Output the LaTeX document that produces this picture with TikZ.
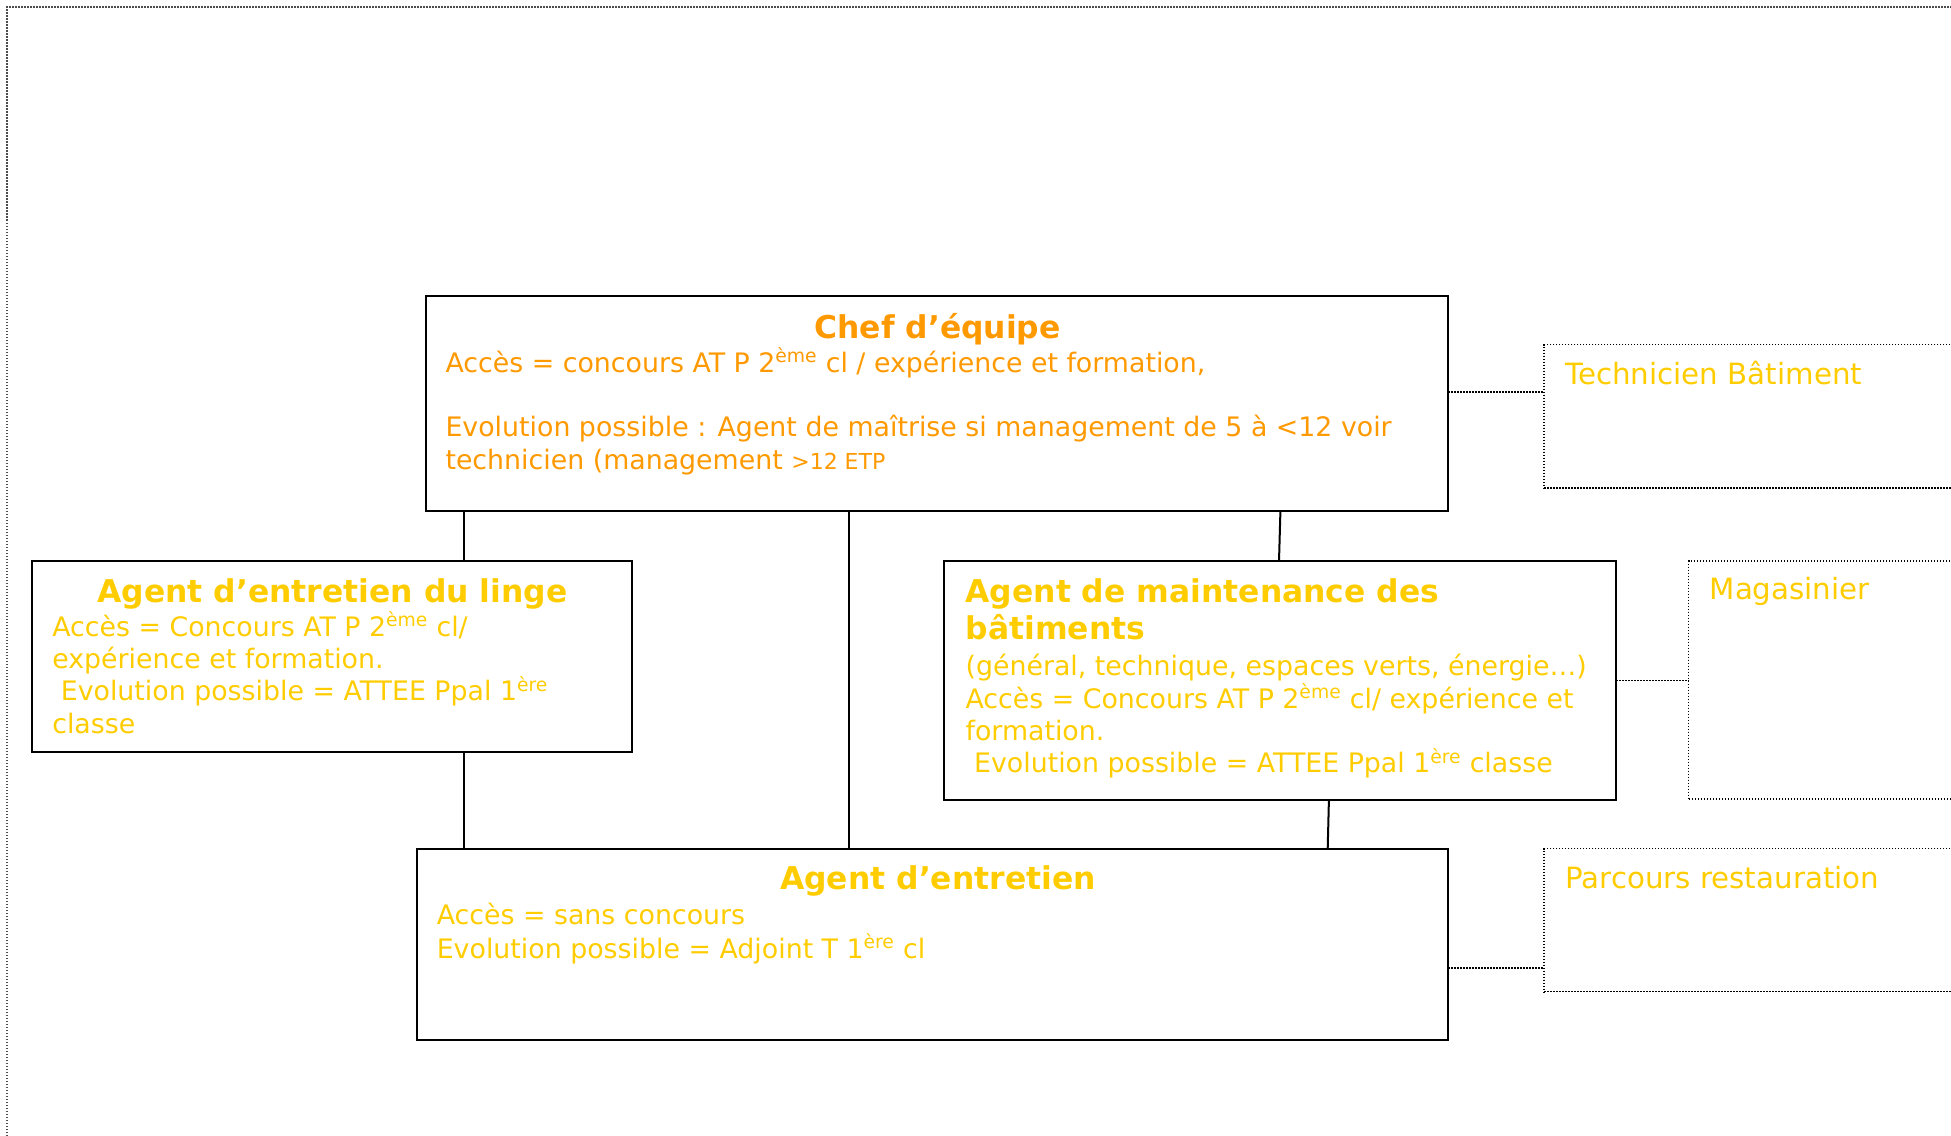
\documentclass[tikz,border=0pt]{standalone}
\usepackage{fontspec}
\setmainfont{DejaVu Sans}
\usetikzlibrary{calc}
\definecolor{orangeT}{HTML}{FF9900}
\definecolor{goldT}{HTML}{FFCC00}
\newcommand\bodyfnt{\fontsize{26.8}{32}\selectfont}
\newcommand\sidefnt{\fontsize{29.3}{35}\selectfont}
\newcommand\titlefnt{\fontsize{31.4}{37}\selectfont\bfseries}
\begin{document}
\begin{tikzpicture}[x=1pt,y=-1pt,
  box/.style={draw=black, line width=2pt, rectangle, inner sep=0pt, outer sep=0pt, anchor=north west},
  dbox/.style={draw=black, line width=1.5pt, dash pattern=on 1.5pt off 1.5pt, rectangle, inner sep=0pt, outer sep=0pt, anchor=north west},
  conn/.style={draw=black, line width=2pt},
  dconn/.style={draw=black, line width=1.5pt, dash pattern=on 1.5pt off 1.5pt},
  txt/.style={anchor=base west, inner sep=0pt, outer sep=0pt, font=\bodyfnt},
  stxt/.style={anchor=base west, inner sep=0pt, outer sep=0pt, font=\sidefnt},
  ttl/.style={anchor=base, inner sep=0pt, outer sep=0pt, font=\titlefnt},
  ttlw/.style={anchor=base west, inner sep=0pt, outer sep=0pt, font=\titlefnt}]
\useasboundingbox (0,0) rectangle (1951,1135);
\clip (0,0) rectangle (1951,1135);
% outer dotted frame
\draw[draw=black!70, line width=1.5pt, dash pattern=on 1.5pt off 1.5pt] (7,1160) -- (7,7) -- (1970,7);

% boxes
\node[box, minimum width=1022.8pt, minimum height=215.3pt] (chef) at (425.6,296.1) {};
\node[box, minimum width=599.7pt, minimum height=190.4pt] (linge) at (32.4,561.2) {};
\node[box, minimum width=671.9pt, minimum height=238.9pt] (maint) at (944.4,561.2) {};
\node[box, minimum width=1031.6pt, minimum height=191.6pt] (agent) at (416.8,848.6) {};
\node[dbox, minimum width=430pt, minimum height=143.1pt] (tech) at (1544.2,344.7) {};
\node[dbox, minimum width=300pt, minimum height=237.6pt] (mag) at (1688.5,561.2) {};
\node[dbox, minimum width=430pt, minimum height=143.1pt] (parc) at (1544.2,848.6) {};

% connectors
\draw[conn] ([xshift=38.5pt]chef.south west) -- ([xshift=38.5pt]chef.south west |- linge.north);
\draw[conn] ([xshift=423pt]chef.south west) -- ([xshift=423pt]chef.south west |- agent.north);
\draw[conn] ([xshift=854.8pt]chef.south west) -- ([xshift=334.6pt]maint.north west);
\draw[conn] ([xshift=431.7pt]linge.south west) -- ([xshift=431.7pt]linge.south west |- agent.north);
\draw[conn] ([xshift=384.5pt]maint.south west) -- ([xshift=910.9pt]agent.north west);
\draw[dconn] ([yshift=-95.9pt]chef.north east) -- ([yshift=-95.9pt]chef.north east -| tech.west);
\draw[dconn] ([yshift=-119.4pt]maint.north east) -- ([yshift=-119.4pt]maint.north east -| mag.west);
\draw[dconn] ([yshift=-119.4pt]agent.north east) -- ([yshift=-119.4pt]agent.north east -| parc.west);

% chef text
\begin{scope}[text=orangeT]
\node[ttl] (chefT) at (937.5,338) {Chef d’équipe};
\node[txt] (chef1) at (445.5,372) {Accès = concours AT P 2\textsuperscript{ème} cl / expérience et formation,};
\node[txt] (chef2) at (445.5,436.7) {Evolution possible : Agent de maîtrise si management de 5 à <12 voir};
\node[txt] (chef3) at (445.5,469) {technicien (management {\fontsize{22}{26}\selectfont >12 ETP}};
\end{scope}

\begin{scope}[text=goldT]
% linge
\node[ttl] (lingeT) at (332.5,602) {Agent d’entretien du linge};
\node[txt] (linge1) at (52.3,636) {Accès = Concours AT P 2\textsuperscript{ème} cl/};
\node[txt] (linge2) at (52.3,668) {expérience et formation.};
\node[txt] (linge3) at (52.3,700.5) {\ Evolution possible = ATTEE Ppal 1\textsuperscript{ère}};
\node[txt] (linge4) at (52.3,733) {classe};
% maintenance
\node[ttlw] (maintT1) at (965.6,602) {Agent de maintenance des};
\node[ttlw] (maintT2) at (965.6,639.6) {bâtiments};
\node[txt] (maint1) at (965.6,675.7) {(général, technique, espaces verts, énergie…)};
\node[txt] (maint2) at (965.6,708) {Accès = Concours AT P 2\textsuperscript{ème} cl/ expérience et};
\node[txt] (maint3) at (965.6,740) {formation.};
\node[txt] (maint4) at (965.6,772.7) {\ Evolution possible = ATTEE Ppal 1\textsuperscript{ère} classe};
% agent
\node[ttl] (agentT) at (938,889.7) {Agent d’entretien};
\node[txt] (agent1) at (436.8,924.5) {Accès = sans concours};
\node[txt] (agent2) at (436.8,958) {Evolution possible = Adjoint T 1\textsuperscript{ère} cl};
% side boxes
\node[stxt] (techT) at (1565.3,384.5) {Technicien Bâtiment};
\node[stxt] (magT) at (1709.7,599.8) {Magasinier};
\node[stxt] (parcT) at (1565.3,888.4) {Parcours restauration};
\end{scope}
\end{tikzpicture}
\end{document}
